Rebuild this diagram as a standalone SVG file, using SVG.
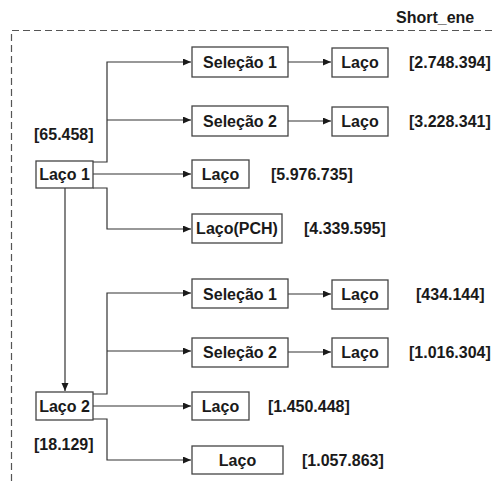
<svg xmlns="http://www.w3.org/2000/svg" width="494" height="481" viewBox="0 0 494 481">
<defs>
<marker id="arr" markerUnits="userSpaceOnUse" markerWidth="9" markerHeight="8" refX="8" refY="3.5" orient="auto">
<path d="M0,0 L8,3.5 L0,7 z" fill="#1a1a1a"/>
</marker>
</defs>
<style>
.box{fill:#fff;stroke:#444;stroke-width:1.3}
.t{font-family:"Liberation Sans",Arial,sans-serif;font-weight:bold;font-size:16px;fill:#1a1a1a}
.c{text-anchor:middle}
.ln{fill:none;stroke:#333;stroke-width:1.2}
.dash{fill:none;stroke:#555;stroke-width:1.2;stroke-dasharray:7 4}
</style>
<rect width="494" height="481" fill="#fff"/>
<g id="frame">
<path class="dash" d="M11.5,481 V30.5 H494"/>
<text class="t" x="396" y="23">Short_ene</text>
</g>
<g id="connectors">
<path class="ln" d="M93,162 H107 V62 H191" marker-end="url(#arr)"/>
<path class="ln" d="M107,120 H191" marker-end="url(#arr)"/>
<path class="ln" d="M93,174 H191" marker-end="url(#arr)"/>
<path class="ln" d="M93,188 H107 V229 H191" marker-end="url(#arr)"/>
<path class="ln" d="M65,188 V391" marker-end="url(#arr)"/>
<path class="ln" d="M288,62 H331" marker-end="url(#arr)"/>
<path class="ln" d="M288,121 H331" marker-end="url(#arr)"/>
<path class="ln" d="M93,394 H107 V293 H191" marker-end="url(#arr)"/>
<path class="ln" d="M107,351 H191" marker-end="url(#arr)"/>
<path class="ln" d="M93,406 H191" marker-end="url(#arr)"/>
<path class="ln" d="M93,419 H107 V460 H191" marker-end="url(#arr)"/>
<path class="ln" d="M288,294 H331" marker-end="url(#arr)"/>
<path class="ln" d="M288,352 H331" marker-end="url(#arr)"/>
</g>
<g id="laco1"><rect class="box" x="36" y="161" width="57" height="27"/><text class="t c" x="64.5" y="180">Laço 1</text></g>
<g id="laco2"><rect class="box" x="36" y="392" width="57" height="28"/><text class="t c" x="64.5" y="412">Laço 2</text></g>
<g id="sel1a"><rect class="box" x="192" y="47" width="96" height="30"/><text class="t c" x="240" y="68">Seleção 1</text></g>
<g id="laco1a"><rect class="box" x="332" y="48" width="56" height="29"/><text class="t c" x="360" y="68">Laço</text></g>
<g id="sel2a"><rect class="box" x="192" y="106" width="96" height="30"/><text class="t c" x="240" y="127">Seleção 2</text></g>
<g id="laco2a"><rect class="box" x="332" y="107" width="56" height="29"/><text class="t c" x="360" y="127">Laço</text></g>
<g id="laco3a"><rect class="box" x="192" y="160" width="57" height="28"/><text class="t c" x="220.5" y="180">Laço</text></g>
<g id="lacopch"><rect class="box" x="192" y="214" width="90" height="29"/><text class="t c" x="237" y="234">Laço(PCH)</text></g>
<g id="sel1b"><rect class="box" x="192" y="279" width="96" height="29"/><text class="t c" x="240" y="299.5">Seleção 1</text></g>
<g id="laco1b"><rect class="box" x="332" y="280" width="56" height="29"/><text class="t c" x="360" y="300">Laço</text></g>
<g id="sel2b"><rect class="box" x="192" y="338" width="96" height="29"/><text class="t c" x="240" y="358">Seleção 2</text></g>
<g id="laco2b"><rect class="box" x="332" y="338" width="56" height="29"/><text class="t c" x="360" y="358">Laço</text></g>
<g id="laco3b"><rect class="box" x="192" y="392" width="57" height="28"/><text class="t c" x="220.5" y="412">Laço</text></g>
<g id="laco4b"><rect class="box" x="192" y="446" width="91" height="28"/><text class="t c" x="237.5" y="466">Laço</text></g>
<g id="labels">
<text class="t" x="34" y="140">[65.458]</text>
<text class="t" x="409" y="68">[2.748.394]</text>
<text class="t" x="409" y="127">[3.228.341]</text>
<text class="t" x="271" y="180">[5.976.735]</text>
<text class="t" x="304" y="234">[4.339.595]</text>
<text class="t" x="416" y="300">[434.144]</text>
<text class="t" x="409" y="358">[1.016.304]</text>
<text class="t" x="268" y="412">[1.450.448]</text>
<text class="t" x="34" y="450">[18.129]</text>
<text class="t" x="302" y="466">[1.057.863]</text>
</g>
</svg>
